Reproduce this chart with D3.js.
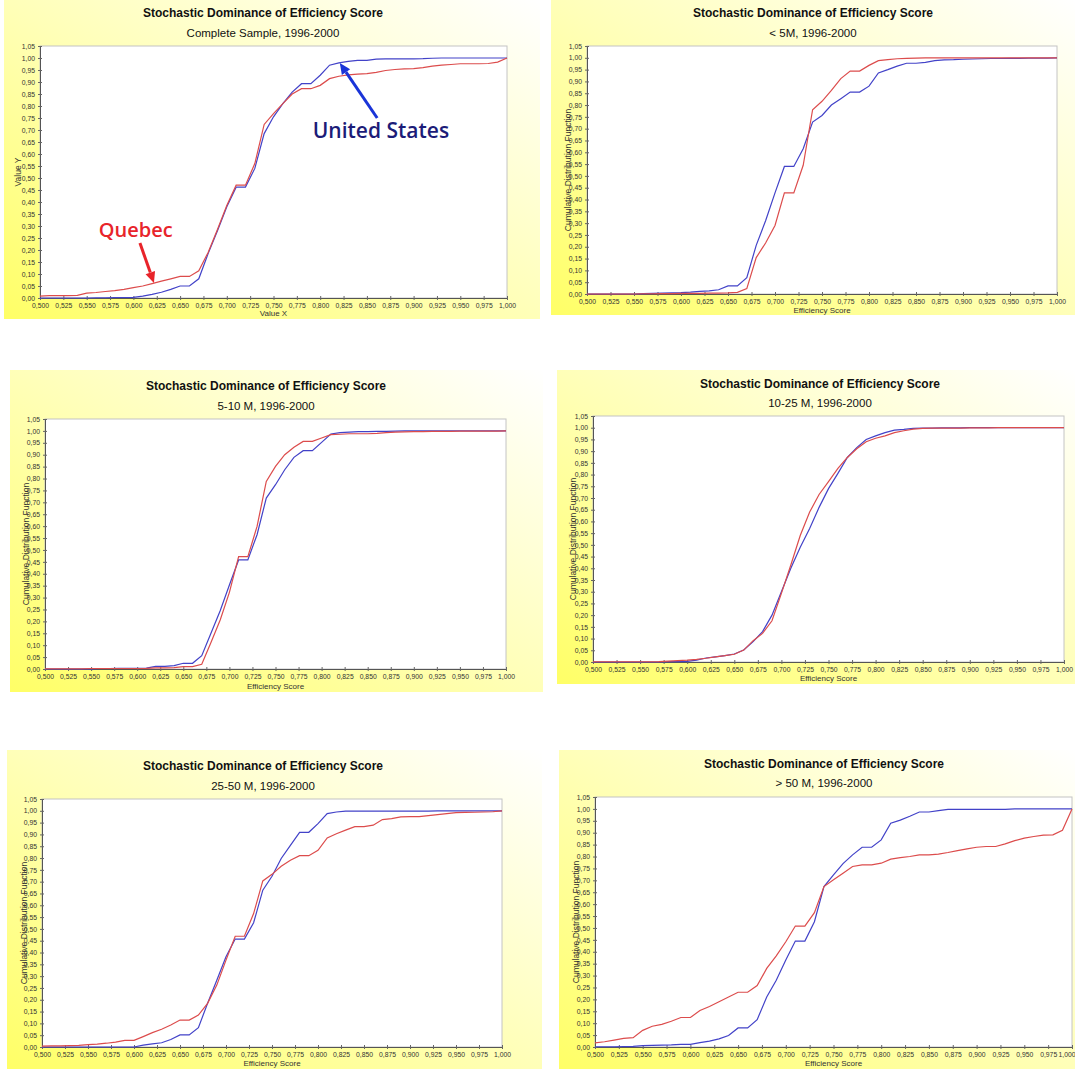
<!DOCTYPE html>
<html>
<head>
<meta charset="utf-8">
<script src="https://cdn.jsdelivr.net/npm/d3@7"></script>
<style>
body { margin: 0; background: #fff; }
svg { display: block; font-family: "Liberation Sans", Arial, sans-serif; }
</style>
</head>
<body>
<div id="chart"></div>
<script>
// efficiency score grid (x)
var scoreX = [0.50, 0.51, 0.52, 0.53, 0.54, 0.55, 0.56, 0.57, 0.58, 0.59,
  0.60, 0.61, 0.62, 0.63, 0.64, 0.65, 0.66, 0.67, 0.68, 0.69,
  0.70, 0.71, 0.72, 0.73, 0.74, 0.75, 0.76, 0.77, 0.78, 0.79,
  0.80, 0.81, 0.82, 0.83, 0.84, 0.85, 0.86, 0.87, 0.88, 0.89,
  0.90, 0.91, 0.92, 0.93, 0.94, 0.95, 0.96, 0.97, 0.98, 0.99, 1.00];

var xTicks = [0.500, 0.525, 0.550, 0.575, 0.600, 0.625, 0.650, 0.675, 0.700, 0.725,
  0.750, 0.775, 0.800, 0.825, 0.850, 0.875, 0.900, 0.925, 0.950, 0.975, 1.000];
var yTicks = [0.00, 0.05, 0.10, 0.15, 0.20, 0.25, 0.30, 0.35, 0.40, 0.45, 0.50,
  0.55, 0.60, 0.65, 0.70, 0.75, 0.80, 0.85, 0.90, 0.95, 1.00, 1.05];

var titleText = "Stochastic Dominance of Efficiency Score";
var subtitles = ["Complete Sample, 1996-2000", "< 5M, 1996-2000", "5-10 M, 1996-2000",
  "10-25 M, 1996-2000", "25-50 M, 1996-2000", "> 50 M, 1996-2000"];

// cumulative distribution values, United States (blue) and Quebec (red)
var usAll = [0, 0, 0, 0, 0, 0, 0.001, 0.001, 0.002, 0.002,
  0.003, 0.008, 0.015, 0.024, 0.036, 0.05, 0.05, 0.08, 0.185, 0.28,
  0.38, 0.462, 0.462, 0.54, 0.685, 0.755, 0.81, 0.858, 0.893, 0.893,
  0.928, 0.97, 0.98, 0.986, 0.99, 0.99, 0.995, 0.996, 0.996, 0.996,
  0.996, 0.997, 0.999, 1, 1, 1, 1, 1, 1, 1, 1];
var qcAll = [0.008, 0.01, 0.01, 0.01, 0.011, 0.02, 0.023, 0.027, 0.031, 0.036,
  0.043, 0.05, 0.06, 0.07, 0.08, 0.09, 0.09, 0.113, 0.19, 0.285,
  0.385, 0.47, 0.47, 0.56, 0.723, 0.768, 0.81, 0.85, 0.872, 0.872,
  0.886, 0.914, 0.924, 0.93, 0.933, 0.935, 0.94, 0.948, 0.952, 0.955,
  0.956, 0.96, 0.966, 0.97, 0.973, 0.976, 0.976, 0.976, 0.977, 0.983, 1];

var usLt5 = [0, 0, 0, 0, 0, 0, 0.002, 0.003, 0.004, 0.005,
  0.006, 0.008, 0.011, 0.013, 0.018, 0.034, 0.034, 0.069, 0.206, 0.31,
  0.428, 0.54, 0.54, 0.615, 0.728, 0.756, 0.80, 0.827, 0.855, 0.855,
  0.88, 0.936, 0.95, 0.965, 0.977, 0.977, 0.981, 0.988, 0.991, 0.992,
  0.994, 0.995, 0.996, 0.997, 0.997, 0.998, 0.998, 0.999, 0.999, 0.999, 1];
var qcLt5 = [0, 0, 0, 0, 0, 0, 0.001, 0.001, 0.002, 0.002,
  0.003, 0.003, 0.003, 0.004, 0.004, 0.005, 0.007, 0.023, 0.154, 0.216,
  0.29, 0.428, 0.428, 0.545, 0.78, 0.816, 0.862, 0.912, 0.944, 0.944,
  0.968, 0.988, 0.992, 0.996, 0.998, 0.999, 1, 1, 1, 1,
  1, 1, 1, 1, 1, 1, 1, 1, 1, 1, 1];

var us5to10 = [0, 0, 0, 0, 0, 0, 0.002, 0.002, 0.003, 0.003,
  0.003, 0.004, 0.011, 0.011, 0.014, 0.024, 0.024, 0.056, 0.15, 0.245,
  0.353, 0.458, 0.458, 0.564, 0.718, 0.774, 0.837, 0.889, 0.917, 0.917,
  0.952, 0.987, 0.993, 0.995, 0.997, 0.997, 0.998, 0.998, 0.999, 1,
  1, 1, 1, 1, 1, 1, 1, 1, 1, 1, 1];
var qc5to10 = [0.001, 0.001, 0.001, 0.001, 0.001, 0.002, 0.002, 0.002, 0.002, 0.002,
  0.002, 0.003, 0.005, 0.005, 0.006, 0.01, 0.01, 0.02, 0.111, 0.206,
  0.322, 0.472, 0.472, 0.599, 0.788, 0.851, 0.90, 0.931, 0.956, 0.956,
  0.97, 0.984, 0.986, 0.988, 0.988, 0.988, 0.99, 0.993, 0.995, 0.996,
  0.997, 0.997, 0.998, 0.998, 0.998, 0.999, 0.999, 0.999, 0.999, 0.999, 1];

var us10to25 = [0, 0, 0, 0, 0, 0, 0, 0, 0.002, 0.002,
  0.003, 0.008, 0.017, 0.022, 0.027, 0.034, 0.051, 0.087, 0.13, 0.2,
  0.30, 0.40, 0.49, 0.57, 0.66, 0.74, 0.805, 0.873, 0.915, 0.95,
  0.965, 0.979, 0.99, 0.993, 0.997, 0.998, 0.998, 0.999, 0.999, 0.999,
  1, 1, 1, 1, 1, 1, 1, 1, 1, 1, 1];
var qc10to25 = [0.001, 0.001, 0.001, 0.001, 0.001, 0.001, 0.001, 0.002, 0.004, 0.006,
  0.008, 0.011, 0.016, 0.022, 0.027, 0.033, 0.051, 0.091, 0.122, 0.176,
  0.293, 0.414, 0.54, 0.64, 0.715, 0.77, 0.826, 0.873, 0.91, 0.94,
  0.955, 0.965, 0.979, 0.987, 0.994, 0.997, 0.998, 0.998, 0.998, 0.998,
  0.999, 0.999, 0.999, 1, 1, 1, 1, 1, 1, 1, 1];

var us25to50 = [0, 0, 0, 0, 0, 0, 0, 0, 0, 0,
  0, 0.008, 0.013, 0.018, 0.032, 0.051, 0.051, 0.082, 0.185, 0.283,
  0.382, 0.457, 0.457, 0.526, 0.664, 0.723, 0.798, 0.854, 0.909, 0.909,
  0.946, 0.988, 0.995, 0.999, 0.999, 0.999, 0.999, 0.999, 0.999, 0.999,
  0.999, 0.999, 0.999, 1, 1, 1, 1, 1, 1, 1, 1];
var qc25to50 = [0.004, 0.005, 0.005, 0.006, 0.007, 0.01, 0.012, 0.016, 0.021, 0.028,
  0.028, 0.044, 0.061, 0.075, 0.093, 0.114, 0.114, 0.135, 0.185, 0.262,
  0.368, 0.469, 0.469, 0.565, 0.703, 0.731, 0.765, 0.791, 0.81, 0.81,
  0.833, 0.885, 0.903, 0.918, 0.933, 0.933, 0.939, 0.963, 0.967, 0.974,
  0.975, 0.975, 0.98, 0.984, 0.988, 0.992, 0.993, 0.994, 0.995, 0.996, 1];

var usGt50 = [0.001, 0.001, 0.001, 0.002, 0.003, 0.006, 0.007, 0.008, 0.009, 0.011,
  0.011, 0.018, 0.025, 0.034, 0.048, 0.08, 0.08, 0.115, 0.21, 0.28,
  0.365, 0.445, 0.445, 0.526, 0.674, 0.723, 0.77, 0.807, 0.839, 0.839,
  0.87, 0.94, 0.953, 0.969, 0.987, 0.987, 0.993, 0.998, 0.998, 0.998,
  0.998, 0.998, 0.998, 0.998, 1, 1, 1, 1, 1, 1, 1];
var qcGt50 = [0.017, 0.022, 0.029, 0.036, 0.039, 0.07, 0.087, 0.095, 0.108, 0.124,
  0.124, 0.153, 0.17, 0.19, 0.21, 0.23, 0.23, 0.258, 0.33, 0.383,
  0.442, 0.508, 0.508, 0.564, 0.674, 0.702, 0.73, 0.758, 0.765, 0.765,
  0.772, 0.789, 0.795, 0.80, 0.807, 0.807, 0.81, 0.817, 0.825, 0.832,
  0.839, 0.842, 0.842, 0.853, 0.867, 0.877, 0.884, 0.89, 0.891, 0.91, 1];

var usSeries = [usAll, usLt5, us5to10, us10to25, us25to50, usGt50];
var qcSeries = [qcAll, qcLt5, qc5to10, qc10to25, qc25to50, qcGt50];

// panel layout (page pixels)
var panels = [
  {bg: [4, 0, 536, 319], l: 40, r: 507, t: 46, b: 298, cx: 263, ty: 13, sy: 33, xly: 313, ylx: 18, xl: "Value X", yl: "Value Y"},
  {bg: [551, 0, 524, 315], l: 587, r: 1057, t: 46, b: 294, cx: 813, ty: 13, sy: 33, xly: 310, ylx: 568},
  {bg: [10, 370, 533, 322], l: 45, r: 506, t: 419, b: 669, cx: 266, ty: 386, sy: 406, xly: 686, ylx: 26},
  {bg: [557, 370, 518, 314], l: 593, r: 1064, t: 416, b: 662, cx: 820, ty: 384, sy: 403, xly: 678, ylx: 573},
  {bg: [7, 750, 535, 319], l: 42, r: 502, t: 799, b: 1047, cx: 263, ty: 766, sy: 786, xly: 1063, ylx: 24},
  {bg: [559, 750, 516, 319], l: 595, r: 1072, t: 797, b: 1047, cx: 824, ty: 764, sy: 783, xly: 1063, ylx: 576}
];

var blue = "#4242c8", red = "#dc4c4c";

var svg = d3.select("#chart").append("svg")
  .attr("width", 1075)
  .attr("height", 1069);

var grad = svg.append("defs").append("linearGradient")
  .attr("id", "bggrad")
  .attr("x1", 0).attr("y1", 1).attr("x2", 1).attr("y2", 0);
grad.append("stop").attr("offset", "0%").attr("stop-color", "#ffff66");
grad.append("stop").attr("offset", "50%").attr("stop-color", "#ffffb8");
grad.append("stop").attr("offset", "100%").attr("stop-color", "#ffffff");

var fmtX = d3.format(".3f"), fmtY = d3.format(".2f");

panels.forEach(function(p, i) {
  var g = svg.append("g");

  g.append("rect")
    .attr("x", p.bg[0]).attr("y", p.bg[1])
    .attr("width", p.bg[2]).attr("height", p.bg[3])
    .attr("fill", "url(#bggrad)");

  var x = d3.scaleLinear().domain([0.5, 1.0]).range([p.l, p.r]);
  var y = d3.scaleLinear().domain([0, 1.05]).range([p.b, p.t]);

  // plot area
  g.append("rect")
    .attr("x", p.l).attr("y", p.t)
    .attr("width", p.r - p.l).attr("height", p.b - p.t)
    .attr("fill", "#fff")
    .attr("stroke", "#c4c4c4");

  // titles
  g.append("text")
    .attr("x", p.cx).attr("y", p.ty)
    .attr("dy", "0.35em")
    .attr("text-anchor", "middle")
    .attr("font-weight", "bold")
    .attr("font-size", "12px")
    .attr("fill", "#111")
    .text(titleText);
  g.append("text")
    .attr("x", p.cx).attr("y", p.sy)
    .attr("dy", "0.35em")
    .attr("text-anchor", "middle")
    .attr("font-size", "11.5px")
    .attr("fill", "#111")
    .text(subtitles[i]);

  // axes
  var xAxis = g.append("g")
    .attr("transform", "translate(0," + p.b + ")")
    .call(d3.axisBottom(x).tickValues(xTicks).tickSizeOuter(0).tickSizeInner(2).tickPadding(3)
      .tickFormat(function(d) { return fmtX(d).replace(".", ","); }));
  var yAxis = g.append("g")
    .attr("transform", "translate(" + p.l + ",0)")
    .call(d3.axisLeft(y).tickValues(yTicks).tickSizeOuter(0).tickSizeInner(2).tickPadding(3)
      .tickFormat(function(d) { return fmtY(d).replace(".", ","); }));

  xAxis.selectAll(".tick line").attr("y1", -2).attr("y2", 2).attr("stroke", "#666");
  yAxis.selectAll(".tick line").attr("x1", -2).attr("x2", 2).attr("stroke", "#666");
  xAxis.select(".domain").attr("stroke", "#555");
  yAxis.select(".domain").attr("stroke", "#555");
  [xAxis, yAxis].forEach(function(a) {
    a.selectAll("text")
      .attr("font-family", "'Liberation Sans', Arial, sans-serif")
      .attr("font-size", "6.8px")
      .attr("fill", "#333");
  });
  // keep the last x label inside the page when the plot reaches the edge
  if (p.r > 1066) {
    xAxis.selectAll(".tick text")
      .filter(function(d) { return d === 1.0; })
      .attr("text-anchor", "end")
      .attr("dx", "3px");
  }

  // axis titles
  g.append("text")
    .attr("x", (p.l + p.r) / 2).attr("y", p.xly)
    .attr("dy", "0.35em")
    .attr("text-anchor", "middle")
    .attr("font-size", "8px")
    .attr("fill", "#333")
    .text(p.xl || "Efficiency Score");
  g.append("text")
    .attr("transform", "translate(" + p.ylx + "," + (p.t + p.b) / 2 + ") rotate(-90)")
    .attr("dy", "0.35em")
    .attr("text-anchor", "middle")
    .attr("font-size", "8.5px")
    .attr("fill", "#333")
    .text(p.yl || "Cumulative Distribution Function");

  // CDF lines
  var line = d3.line()
    .x(function(d, j) { return x(scoreX[j]); })
    .y(function(d) { return y(d); });

  g.append("path")
    .datum(usSeries[i])
    .attr("fill", "none")
    .attr("stroke", blue)
    .attr("stroke-width", 1.2)
    .attr("d", line);
  g.append("path")
    .datum(qcSeries[i])
    .attr("fill", "none")
    .attr("stroke", red)
    .attr("stroke-width", 1.2)
    .attr("d", line);

  // annotations on the complete sample chart
  if (i === 0) {
    annotate(g, x, y, "United States", "#1c1c78", "#1a34d8", [0.792, 0.667], [0.861, 0.75], [0.821, 0.979]);
    annotate(g, x, y, "Quebec", "#e8242a", "#e8242a", [0.563, 0.254], [0.607, 0.229], [0.622, 0.0625]);
  }
});

function annotate(g, x, y, label, textColor, arrowColor, at, from, to) {
  g.append("text")
    .attr("x", x(at[0])).attr("y", y(at[1]))
    .attr("font-family", "'Open Sans', sans-serif")
    .attr("font-weight", 600)
    .attr("font-size", label === "Quebec" ? "20px" : "21px")
    .attr("fill", textColor)
    .text(label);

  var x1 = x(from[0]), y1 = y(from[1]), x2 = x(to[0]), y2 = y(to[1]);
  var ang = Math.atan2(y2 - y1, x2 - x1);
  var hl = 11, hw = 5;
  var bx = x2 - hl * Math.cos(ang), by = y2 - hl * Math.sin(ang);
  g.append("line")
    .attr("x1", x1).attr("y1", y1)
    .attr("x2", bx).attr("y2", by)
    .attr("stroke", arrowColor)
    .attr("stroke-width", 3);
  g.append("polygon")
    .attr("points", [
      [x2, y2],
      [bx + hw * Math.sin(ang), by - hw * Math.cos(ang)],
      [bx - hw * Math.sin(ang), by + hw * Math.cos(ang)]
    ].map(function(pt) { return pt.join(","); }).join(" "))
    .attr("fill", arrowColor);
}
</script>
</body>
</html>
